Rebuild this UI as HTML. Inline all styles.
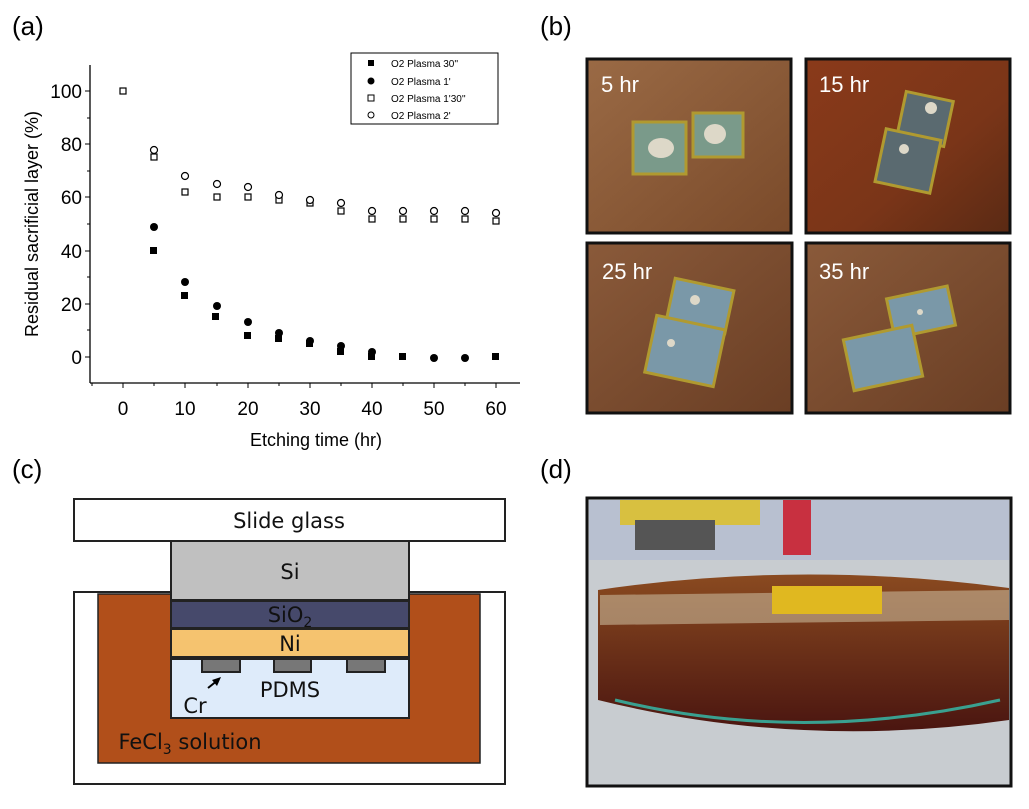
<!DOCTYPE html>
<html><head><meta charset="utf-8"><style>
body{margin:0;background:#fff;width:1029px;height:804px;overflow:hidden;font-family:"Liberation Sans",sans-serif}
</style></head><body>
<svg width="1029" height="804" viewBox="0 0 1029 804" xmlns="http://www.w3.org/2000/svg" font-family="Liberation Sans, sans-serif">
<defs>
<linearGradient id="wood1" x1="0" y1="0" x2="1" y2="1"><stop offset="0" stop-color="#9a6a45"/><stop offset="1" stop-color="#7a4a2a"/></linearGradient>
<linearGradient id="wood2" x1="0" y1="0" x2="1" y2="1"><stop offset="0" stop-color="#8a3a1a"/><stop offset=".6" stop-color="#7a3518"/><stop offset="1" stop-color="#5a2a14"/></linearGradient>
<linearGradient id="wood3" x1="0" y1="0" x2="1" y2="1"><stop offset="0" stop-color="#8a5a3a"/><stop offset="1" stop-color="#6a3e24"/></linearGradient>
<linearGradient id="liq" x1="0" y1="0" x2="0" y2="1"><stop offset="0" stop-color="#8a4a20"/><stop offset="1" stop-color="#4a1510"/></linearGradient>
</defs>
<text x="12" y="35" font-size="26">(a)</text>
<text x="540" y="35" font-size="26">(b)</text>
<text x="12" y="478" font-size="26">(c)</text>
<text x="540" y="478" font-size="26">(d)</text>
<g stroke="#000" stroke-width="1.3" fill="none">
<line x1="90" y1="65" x2="90" y2="383"/>
<line x1="90" y1="383" x2="520" y2="383"/>
</g>
<g stroke="#000" stroke-width="1">
<line x1="85" y1="91" x2="90" y2="91"/><line x1="85" y1="144" x2="90" y2="144"/><line x1="85" y1="197" x2="90" y2="197"/><line x1="85" y1="251" x2="90" y2="251"/><line x1="85" y1="304" x2="90" y2="304"/><line x1="85" y1="357" x2="90" y2="357"/>
<line x1="87" y1="118" x2="90" y2="118"/><line x1="87" y1="171" x2="90" y2="171"/><line x1="87" y1="224" x2="90" y2="224"/><line x1="87" y1="277" x2="90" y2="277"/><line x1="87" y1="330" x2="90" y2="330"/>
<line x1="123" y1="383" x2="123" y2="388"/><line x1="185" y1="383" x2="185" y2="388"/><line x1="248" y1="383" x2="248" y2="388"/><line x1="310" y1="383" x2="310" y2="388"/><line x1="372" y1="383" x2="372" y2="388"/><line x1="434" y1="383" x2="434" y2="388"/><line x1="496" y1="383" x2="496" y2="388"/>
<line x1="154" y1="383" x2="154" y2="386"/><line x1="217" y1="383" x2="217" y2="386"/><line x1="279" y1="383" x2="279" y2="386"/><line x1="341" y1="383" x2="341" y2="386"/><line x1="403" y1="383" x2="403" y2="386"/><line x1="465" y1="383" x2="465" y2="386"/><line x1="92" y1="383" x2="92" y2="386"/>
</g>
<g font-size="19" text-anchor="end">
<text x="82" y="98">100</text><text x="82" y="151">80</text><text x="82" y="204">60</text><text x="82" y="258">40</text><text x="82" y="311">20</text><text x="82" y="364">0</text>
</g>
<g font-size="19" text-anchor="middle">
<text x="123" y="415">0</text><text x="185" y="415">10</text><text x="248" y="415">20</text><text x="310" y="415">30</text><text x="372" y="415">40</text><text x="434" y="415">50</text><text x="496" y="415">60</text>
</g>
<text x="316" y="446" font-size="18" text-anchor="middle">Etching time (hr)</text>
<text transform="translate(38,224) rotate(-90)" font-size="18" text-anchor="middle">Residual  sacrificial layer (%)</text>
<g fill="#000">
<rect x="150" y="247" width="7" height="7"/><rect x="181" y="292" width="7" height="7"/><rect x="212" y="313" width="7" height="7"/><rect x="244" y="332" width="7" height="7"/><rect x="275" y="335" width="7" height="7"/><rect x="306" y="340" width="7" height="7"/><rect x="337" y="348" width="7" height="7"/><rect x="368" y="353" width="7" height="7"/><rect x="399" y="353" width="7" height="7"/><rect x="492" y="353" width="7" height="7"/>
<circle cx="154" cy="227" r="4"/><circle cx="185" cy="282" r="4"/><circle cx="217" cy="306" r="4"/><circle cx="248" cy="322" r="4"/><circle cx="279" cy="333" r="4"/><circle cx="310" cy="341" r="4"/><circle cx="341" cy="346" r="4"/><circle cx="372" cy="352" r="4"/><circle cx="434" cy="358" r="4"/><circle cx="465" cy="358" r="4"/>
</g>
<g fill="#fff" stroke="#000" stroke-width="1.2">
<rect x="120" y="88" width="6" height="6"/><rect x="151" y="154" width="6" height="6"/><rect x="182" y="189" width="6" height="6"/><rect x="214" y="194" width="6" height="6"/><rect x="245" y="194" width="6" height="6"/><rect x="276" y="197" width="6" height="6"/><rect x="307" y="200" width="6" height="6"/><rect x="338" y="208" width="6" height="6"/><rect x="369" y="216" width="6" height="6"/><rect x="400" y="216" width="6" height="6"/><rect x="431" y="216" width="6" height="6"/><rect x="462" y="216" width="6" height="6"/><rect x="493" y="218" width="6" height="6"/>
<circle cx="154" cy="150" r="3.5"/><circle cx="185" cy="176" r="3.5"/><circle cx="217" cy="184" r="3.5"/><circle cx="248" cy="187" r="3.5"/><circle cx="279" cy="195" r="3.5"/><circle cx="310" cy="200" r="3.5"/><circle cx="341" cy="203" r="3.5"/><circle cx="372" cy="211" r="3.5"/><circle cx="403" cy="211" r="3.5"/><circle cx="434" cy="211" r="3.5"/><circle cx="465" cy="211" r="3.5"/><circle cx="496" cy="213" r="3.5"/>
</g>
<rect x="351" y="53" width="147" height="71" fill="#fff" stroke="#000" stroke-width="1"/>
<rect x="368" y="60" width="6" height="6" fill="#000"/><circle cx="371" cy="81" r="3.5" fill="#000"/>
<rect x="368" y="95" width="6" height="6" fill="#fff" stroke="#000"/><circle cx="371" cy="115" r="3" fill="#fff" stroke="#000"/>
<g font-size="10"><text x="391" y="67">O2 Plasma 30''</text><text x="391" y="85">O2 Plasma 1'</text><text x="391" y="102">O2 Plasma 1'30''</text><text x="391" y="119">O2 Plasma 2'</text></g>
<g stroke="#111" stroke-width="3">
<rect x="587" y="59" width="204" height="174" fill="url(#wood1)"/>
<rect x="806" y="59" width="204" height="174" fill="url(#wood2)"/>
<rect x="587" y="243" width="205" height="170" fill="url(#wood3)"/>
<rect x="806" y="243" width="204" height="170" fill="url(#wood3)"/>
</g>
<g fill="#7a9a8a" stroke="#b09a30" stroke-width="3">
<rect x="633" y="122" width="53" height="52"/><rect x="693" y="113" width="50" height="44"/>
<rect x="901" y="96" width="48" height="46" transform="rotate(12 925 119)" fill="#5a6a70"/><rect x="880" y="134" width="56" height="54" transform="rotate(12 908 161)" fill="#5a6a70"/>
<rect x="670" y="284" width="60" height="44" transform="rotate(12 700 306)" fill="#7a98a8"/><rect x="650" y="322" width="70" height="58" transform="rotate(12 685 351)" fill="#7a98a8"/>
<rect x="890" y="292" width="62" height="40" transform="rotate(-12 921 312)" fill="#7a98a8"/><rect x="848" y="332" width="70" height="52" transform="rotate(-12 883 358)" fill="#7a98a8"/>
</g>
<g fill="#ddd8c8"><ellipse cx="661" cy="148" rx="13" ry="10"/><ellipse cx="715" cy="134" rx="11" ry="10"/><circle cx="931" cy="108" r="6"/><circle cx="904" cy="149" r="5"/><circle cx="695" cy="300" r="5"/><circle cx="671" cy="343" r="4"/><circle cx="920" cy="312" r="3"/></g>
<g fill="#fff" font-size="22"><text x="601" y="92">5 hr</text><text x="819" y="92">15 hr</text><text x="602" y="279">25 hr</text><text x="819" y="279">35 hr</text></g>
<rect x="587" y="498" width="424" height="288" fill="#c8ccd0" stroke="#111" stroke-width="3"/>
<rect x="589" y="500" width="420" height="60" fill="#b8c0d0"/>
<rect x="620" y="500" width="140" height="25" fill="#d8c040"/>
<rect x="635" y="520" width="80" height="30" fill="#555"/>
<rect x="783" y="500" width="28" height="55" fill="#c83040"/>
<path d="M598 590 Q800 560 1009 588 L1009 720 Q800 750 598 700 Z" fill="url(#liq)"/>
<path d="M600 595 L1009 590 L1009 620 L600 625 Z" fill="#c8b89a" opacity=".6"/>
<rect x="772" y="586" width="110" height="28" fill="#e0b820"/>
<path d="M615 700 Q800 745 1000 700" stroke="#3aa090" stroke-width="3" fill="none"/>
<g stroke="#222" stroke-width="2">
<rect x="74" y="592" width="431" height="192" fill="#fff"/>
<rect x="98" y="594" width="382" height="169" fill="#b14f1a" stroke-width="1.5"/>
<rect x="74" y="499" width="431" height="42" fill="#fff"/>
<rect x="171" y="541" width="238" height="59" fill="#c0c0c0"/>
<rect x="171" y="601" width="238" height="27" fill="#46496b"/>
<rect x="171" y="629" width="238" height="28" fill="#f5c36f"/>
<rect x="171" y="659" width="238" height="59" fill="#deebfa"/>
<rect x="202" y="659" width="38" height="13" fill="#777"/><rect x="274" y="659" width="37" height="13" fill="#777"/><rect x="347" y="659" width="38" height="13" fill="#777"/>
</g>
<path d="M208 688 L218 680" stroke="#000" stroke-width="2"/><path d="M221 677 L212 680 L217 686 Z" fill="#000"/>
<g font-family="DejaVu Sans, sans-serif" font-size="21" fill="#111" text-anchor="middle">
<text x="289" y="528">Slide glass</text>
<text x="290" y="579">Si</text>
<text x="290" y="622">SiO<tspan font-size="14" dy="5">2</tspan></text>
<text x="290" y="651">Ni</text>
<text x="290" y="697">PDMS</text>
<text x="195" y="713">Cr</text>
<text x="190" y="749">FeCl<tspan font-size="14" dy="5">3</tspan><tspan dy="-5"> solution</tspan></text>
</g>
</svg>
</body></html>
